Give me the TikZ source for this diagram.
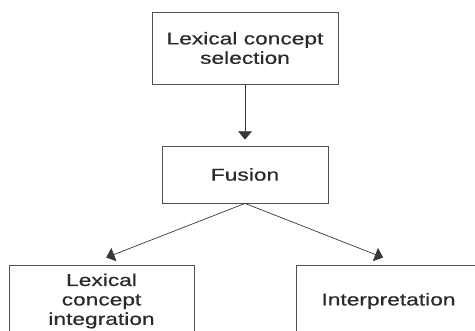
\documentclass[tikz,border=0pt]{standalone}
\usepackage{fontspec}
\usepackage{tikz}
\usetikzlibrary{positioning,arrows.meta,calc}
\usepackage{xcolor}

\newfontfamily\boxfont[FakeStretch=1.33,FakeBold=0.6]{Liberation Sans}
\definecolor{boxline}{HTML}{505050}
\definecolor{boxtext}{HTML}{2a2a2a}

\begin{document}
\begin{tikzpicture}[
        font=\boxfont\fontsize{14.6}{16.6}\selectfont,
        stage/.style={
            draw=boxline,
            line width=0.7pt,
            text=boxtext,
            align=center,
            inner sep=2pt
        },
        arr/.style={
            -{Triangle[length=2.5mm,width=4.2mm]},
            line width=0.6pt,
            draw=boxline!70!black
        }
    ]

    \useasboundingbox (0,0) rectangle (14.25,-9.93);
    \clip (0,0) rectangle (14.25,-9.93);

    % =========================
    % Stages
    % =========================
    \node[stage, minimum width=5.58cm, minimum height=2.16cm] (sel) at (7.35,-1.44) {Lexical concept\\selection};
    \node[stage, minimum width=4.98cm, minimum height=1.71cm] (fusion) at (7.35,-5.235) {Fusion};
    \node[stage, minimum width=5.55cm, minimum height=2.16cm] (integ) at (3.045,-9.03) {Lexical\\concept\\integration};
    \node[stage, minimum width=5.55cm, minimum height=2.16cm] (interp) at (11.655,-9.03) {Interpretation};

    % =========================
    % Arrows
    % =========================
    \draw[arr, shorten >=0.18cm] (sel.south) -- (fusion.north);
    \draw[arr] (fusion.south) -- ($(integ.north)+(0.14,0.21)$);
    \draw[arr] (fusion.south) -- ($(interp.north)+(-0.16,0.21)$);

\end{tikzpicture}
\end{document}
